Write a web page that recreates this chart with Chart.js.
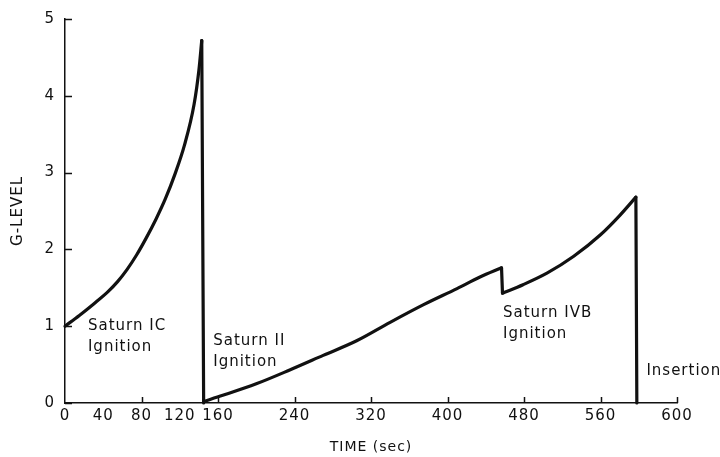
<!DOCTYPE html>
<html>
<head>
<meta charset="utf-8">
<script src="https://cdn.jsdelivr.net/npm/chart.js@4.4.1/dist/chart.umd.min.js"></script>
<style>
  html, body { margin: 0; padding: 0; background: #fff; }
  #wrap { width: 720px; height: 457px; position: relative; }
</style>
</head>
<body>
<div id="wrap"><canvas id="chart"></canvas></div>
<script>
  // Saturn V acceleration profile, one array pair per burn
  const stageICTime = [0, 15, 30, 45, 55, 65, 75, 85, 95, 105, 115, 125, 135, 140, 143];
  const stageICG = [1.0, 1.14, 1.29, 1.45, 1.58, 1.74, 1.93, 2.15, 2.39, 2.66, 2.98, 3.36, 3.89, 4.33, 4.72];
  const stageIITime = [145, 165, 200, 235, 270, 305, 340, 375, 410, 434, 456.5];
  const stageIIG = [0.02, 0.10, 0.25, 0.43, 0.62, 0.81, 1.05, 1.28, 1.49, 1.64, 1.76];
  const stageIVBTime = [457.5, 479, 504, 532, 560, 580, 597];
  const stageIVBG = [1.43, 1.54, 1.69, 1.91, 2.19, 2.44, 2.68];
  const insertionTime = 598;

  // x ticks as printed (the last printed "600" sits one equal step after 560)
  const xTickValues = [0, 40, 80, 120, 160, 240, 320, 400, 480, 560, 640];
  const xTickLabels = ["0", "40", "80", "120", "160", "240", "320", "400", "480", "560", "600"];
  const xTickMarks = [80, 160, 240, 320, 400, 480, 560, 640];
  const yTickValues = [0, 1, 2, 3, 4, 5];

  const notes = [
    { t: 24, g: 1.0, lines: ["Saturn IC", "Ignition"] },
    { t: 155, g: 0.80, lines: ["Saturn II", "Ignition"] },
    { t: 458, g: 1.17, lines: ["Saturn IVB", "Ignition"] },
    { t: 608, g: 0.41, lines: ["Insertion"] }
  ];

  const ink = "#111";
  const font = "'DejaVu Sans', sans-serif";

  const toPoints = (ts, gs) => ts.map((t, i) => ({ x: t, y: gs[i] }));
  const stages = [
    toPoints(stageICTime, stageICG),
    toPoints(stageIITime, stageIIG),
    toPoints(stageIVBTime, stageIVBG)
  ];
  // engine cutoffs: straight drops from the end of one burn to the start of the next
  const cutoffs = stages.map((pts, i) => {
    const end = pts[pts.length - 1];
    const next = stages[i + 1] ? stages[i + 1][0] : { x: insertionTime, y: 0 };
    return i === 0 ? [end, { x: next.x, y: 0 }, next] : [end, next];
  });

  const lineStyle = (data, curved) => ({
    data,
    borderColor: ink,
    borderWidth: 3.2,
    borderCapStyle: "round",
    borderJoinStyle: "round",
    pointRadius: 0,
    fill: false,
    cubicInterpolationMode: curved ? "monotone" : "default",
    tension: 0,
    clip: false
  });

  const spacing = {
    id: "spacing",
    beforeLayout(chart) { chart.ctx.letterSpacing = "1px"; },
    beforeDraw(chart) { chart.ctx.letterSpacing = "1px"; }
  };

  const decorations = {
    id: "decorations",
    afterDatasetsDraw(chart) {
      const { ctx, scales: { x, y } } = chart;
      ctx.save();
      ctx.strokeStyle = ink;
      ctx.lineWidth = 1.5;
      ctx.beginPath();
      xTickMarks.forEach((v) => {
        const px = Math.round(x.getPixelForValue(v)) + 0.5;
        ctx.moveTo(px, y.bottom);
        ctx.lineTo(px, y.bottom - 6);
      });
      yTickValues.forEach((v) => {
        const py = Math.round(y.getPixelForValue(v)) + 0.5;
        ctx.moveTo(x.left, py);
        ctx.lineTo(x.left + 7, py);
      });
      ctx.stroke();

      ctx.letterSpacing = "1px";
      ctx.fillStyle = ink;
      ctx.font = `15px ${font}`;
      ctx.textAlign = "left";
      ctx.textBaseline = "middle";
      notes.forEach((n) => {
        const px = x.getPixelForValue(n.t);
        const py = y.getPixelForValue(n.g);
        n.lines.forEach((line, i) => ctx.fillText(line, px, py + i * 21));
      });
      ctx.restore();
    }
  };

  new Chart(document.getElementById("chart"), {
    type: "line",
    data: {
      datasets: [
        ...stages.map((pts) => lineStyle(pts, true)),
        ...cutoffs.map((pts) => lineStyle(pts, false))
      ]
    },
    options: {
      responsive: true,
      maintainAspectRatio: false,
      animation: false,
      layout: { padding: { top: 15, right: 43, left: 0, bottom: 0 } },
      plugins: { legend: { display: false }, tooltip: { enabled: false } },
      scales: {
        x: {
          type: "linear",
          min: 0,
          max: 640,
          afterFit: (scale) => { scale.height = 54; },
          afterBuildTicks: (scale) => { scale.ticks = xTickValues.map((v) => ({ value: v })); },
          grid: { display: false, drawTicks: false },
          border: { display: true, color: ink, width: 1.5 },
          ticks: {
            autoSkip: false,
            maxRotation: 0,
            padding: 4,
            color: ink,
            font: { family: font, size: 15 },
            callback: (v) => xTickLabels[xTickValues.indexOf(v)]
          },
          title: {
            display: true,
            text: "TIME (sec)",
            color: ink,
            font: { family: font, size: 14 },
            padding: { top: 0, bottom: 1 }
          }
        },
        y: {
          min: 0,
          max: 5,
          afterFit: (scale) => { scale.width = 65; },
          grid: { display: false, drawTicks: false },
          border: { display: true, color: ink, width: 1.5 },
          ticks: {
            stepSize: 1,
            padding: 10,
            color: ink,
            font: { family: font, size: 15 }
          },
          title: {
            display: true,
            text: "G-LEVEL",
            color: ink,
            font: { family: font, size: 15 },
            padding: { top: 9, bottom: 0 }
          }
        }
      }
    },
    plugins: [spacing, decorations]
  });
</script>
</body>
</html>
